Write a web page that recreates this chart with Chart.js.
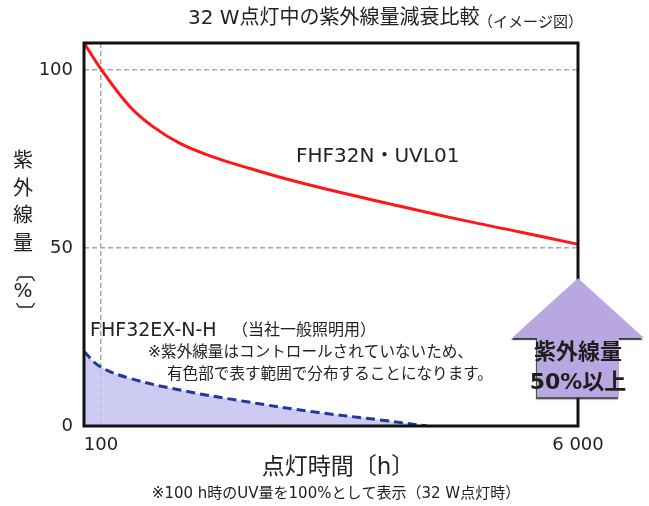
<!DOCTYPE html>
<html>
<head>
<meta charset="utf-8">
<script src="https://cdn.jsdelivr.net/npm/chart.js@4.4.1/dist/chart.umd.min.js"></script>
<style>
  html, body { margin: 0; padding: 0; background: #fff; }
  #wrap { width: 649px; height: 506px; }
</style>
</head>
<body>
<div id="wrap"><canvas id="uv" width="649" height="506"></canvas></div>
<script>
'use strict';

// UV output over burning hours, % of value at 100 h
var uvlHours  = [-110, 109, 459, 743, 1077, 1485, 1906, 2314, 2895, 3637, 4454, 5282, 5990];
var uvlValues = [107.6, 100, 89.7, 84.1, 79.4, 75.6, 72.6, 69.9, 66.5, 62.6, 58.4, 54.5, 51.1];

var exHours  = [-110, 88, 459, 1077, 1906, 2722, 3551, 4132];
var exValues = [20.9, 16.7, 13.4, 10.1, 6.8, 4.0, 1.7, 0];

var xTicks = [100, 6000];
var xTickLabels = ['100', '6 000'];
var yTicks = [0, 50, 100];

var FONT = "'DejaVu Sans', 'Noto Sans CJK JP', sans-serif";
var INK = '#222';

function toPoints(xs, ys) {
    return xs.map(function(x, i) { return { x: x, y: ys[i] }; });
}

function txt(ctx, s, x, y, size, align, weight) {
    ctx.font = (weight || 'normal') + ' ' + size + 'px ' + FONT;
    ctx.textAlign = align || 'left';
    ctx.textBaseline = 'middle';
    ctx.fillText(s, x, y);
}

var decor = {
    id: 'decor',
    afterDatasetsDraw: function(chart) {
        var ctx = chart.ctx, a = chart.chartArea;
        ctx.save();
        // plot frame
        ctx.strokeStyle = '#111';
        ctx.lineWidth = 3;
        ctx.strokeRect(a.left, a.top, a.right - a.left, a.bottom - a.top);

        ctx.fillStyle = INK;
        // title
        txt(ctx, '32 W点灯中の紫外線量減衰比較', 188, 19, 20);
        txt(ctx, '（イメージ図）', 478, 23, 15);

        // y axis title, stacked vertically
        var yChars = ['紫', '外', '線', '量'];
        yChars.forEach(function(c, i) { txt(ctx, c, 23, 162 + i * 27.5, 20, 'center'); });
        [['〔', 272], ['〕', 312]].forEach(function(b) {
            ctx.save();
            ctx.translate(23, b[1]);
            ctx.rotate(Math.PI / 2);
            txt(ctx, b[0], 0, 0, 20, 'center');
            ctx.restore();
        });
        txt(ctx, '%', 23, 292, 20, 'center');

        // x axis title and note
        txt(ctx, '点灯時間〔h〕', 338, 468, 23, 'center');
        txt(ctx, '※100 h時のUV量を100%として表示（32 W点灯時）', 336, 494, 15, 'center');

        // series labels
        txt(ctx, 'FHF32N・UVL01', 296, 157, 20);
        txt(ctx, 'FHF32EX-N-H', 90, 331, 19);
        txt(ctx, '（当社一般照明用）', 232, 331, 16);
        txt(ctx, '※紫外線量はコントロールされていないため、', 148, 353, 15.6);
        txt(ctx, '有色部で表す範囲で分布することになります。', 167, 375, 15.6);
        ctx.restore();
    },
    afterDraw: function(chart) {
        var ctx = chart.ctx;
        var xs = chart.scales.x, ys = chart.scales.y;
        var cx = xs.getPixelForValue(6000);
        var top = ys.getPixelForValue(41.5);
        var neck = ys.getPixelForValue(24.7);
        var bottom = ys.getPixelForValue(8.1);
        var headHalf = 66, bodyHalf = 41;

        ctx.save();
        ctx.beginPath();
        ctx.moveTo(cx, top);
        ctx.lineTo(cx + headHalf, neck);
        ctx.lineTo(cx + bodyHalf, neck);
        ctx.lineTo(cx + bodyHalf, bottom);
        ctx.lineTo(cx - bodyHalf, bottom);
        ctx.lineTo(cx - bodyHalf, neck);
        ctx.lineTo(cx - headHalf, neck);
        ctx.closePath();
        ctx.shadowColor = 'rgba(40,40,40,0.9)';
        ctx.shadowOffsetX = -1;
        ctx.shadowOffsetY = 2;
        ctx.shadowBlur = 1;
        ctx.fillStyle = '#b8a7e0';
        ctx.fill();
        ctx.restore();

        ctx.save();
        ctx.fillStyle = '#1e1e1e';
        txt(ctx, '紫外線量', cx, neck + 15, 22, 'center', 'bold');
        txt(ctx, '50%以上', cx, neck + 45, 22, 'center', 'bold');
        ctx.restore();
    }
};

new Chart(document.getElementById('uv'), {
    type: 'line',
    data: {
        datasets: [{
            label: 'FHF32N・UVL01',
            data: toPoints(uvlHours, uvlValues),
            borderColor: '#ff1616',
            borderWidth: 3,
            pointRadius: 0,
            fill: false,
            tension: 0.4
        }, {
            label: 'FHF32EX-N-H',
            data: toPoints(exHours, exValues),
            borderColor: '#22389a',
            borderWidth: 3,
            borderDash: [9, 5],
            pointRadius: 0,
            fill: 'origin',
            backgroundColor: 'rgba(196,194,240,0.85)',
            tension: 0.4
        }]
    },
    options: {
        responsive: false,
        animation: false,
        layout: { padding: { left: 0, right: 71, top: 43, bottom: 0 } },
        plugins: { legend: { display: false }, tooltip: { enabled: false } },
        scales: {
            x: {
                type: 'linear',
                min: -110,
                max: 6000,
                afterBuildTicks: function(s) { s.ticks = xTicks.map(function(v) { return { value: v }; }); },
                afterFit: function(s) { s.height = 80; },
                ticks: {
                    padding: 9,
                    color: INK,
                    font: { family: FONT, size: 18 },
                    callback: function(v) { return xTickLabels[xTicks.indexOf(v)]; }
                },
                grid: {
                    drawTicks: false,
                    lineWidth: 1.5,
                    color: function(c) { return c.tick && c.tick.value === 100 ? '#a8a8a8' : 'rgba(0,0,0,0)'; }
                },
                border: { display: false, dash: [5, 3] }
            },
            y: {
                min: 0,
                max: 107.6,
                afterBuildTicks: function(s) { s.ticks = yTicks.map(function(v) { return { value: v }; }); },
                afterFit: function(s) { s.width = 84; },
                ticks: {
                    padding: 11,
                    color: INK,
                    font: { family: FONT, size: 18 }
                },
                grid: {
                    drawTicks: false,
                    lineWidth: 1.5,
                    color: function(c) { return c.tick && c.tick.value > 0 ? '#a8a8a8' : 'rgba(0,0,0,0)'; }
                },
                border: { display: false, dash: [5, 3] }
            }
        }
    },
    plugins: [decor]
});
</script>
</body>
</html>
